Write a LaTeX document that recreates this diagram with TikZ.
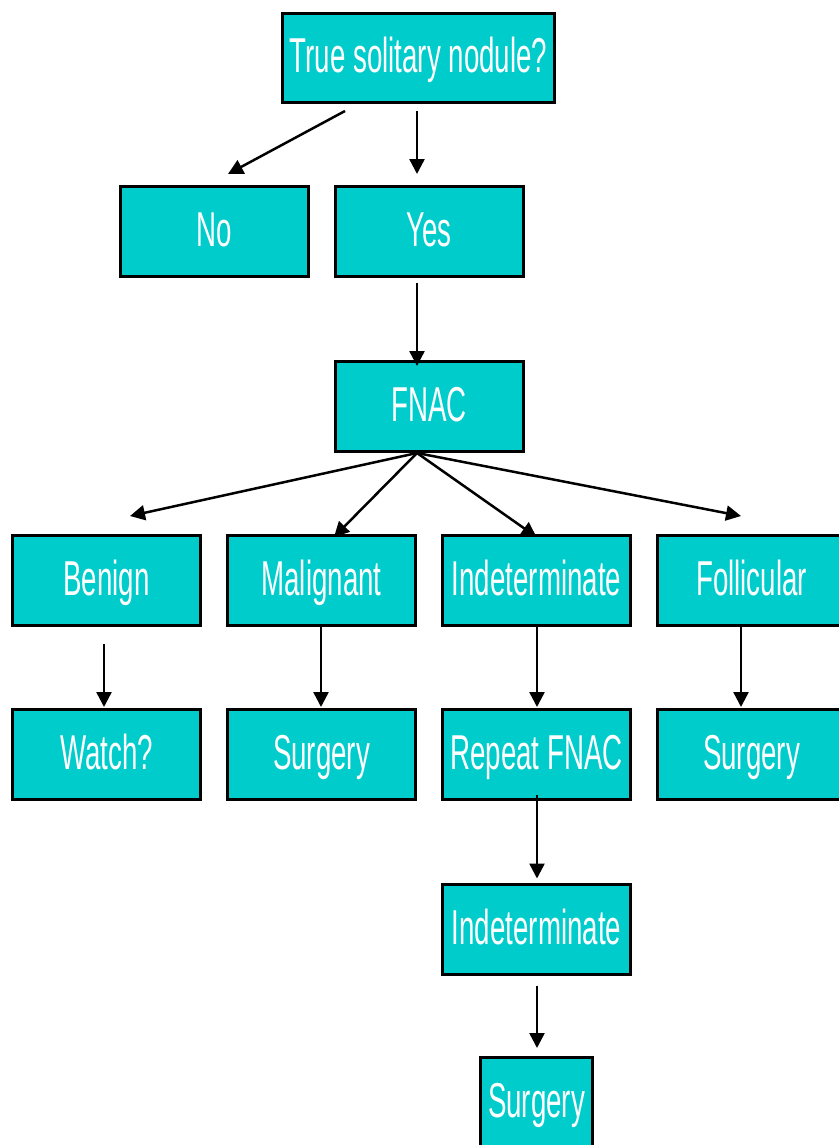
\documentclass[tikz,border=0pt]{standalone}
\usepackage{fontspec}
\setmainfont[FakeStretch=0.565]{Liberation Sans}
\usetikzlibrary{arrows.meta,calc}
\definecolor{boxc}{RGB}{0,204,204}
\begin{document}
\begin{tikzpicture}[x=1pt,y=-1pt,
  box/.style={rectangle,draw=black,line width=3pt,fill=boxc,text=white,
    minimum width=188pt,minimum height=90pt,inner sep=0pt,
    font=\fontsize{49}{55}\selectfont,text height=35pt,text depth=5pt},
  arr/.style={line width=2.5pt,-{Triangle[length=15pt,width=15pt]}}]
\useasboundingbox (0,0) rectangle (838,1145);
\node[box,minimum width=272pt,minimum height=89pt] (top) at (418.5,58) {True solitary nodule?};
\node[box] (no) at (214.5,231.5) {No};
\node[box] (yes) at (429,231.5) {Yes};
\node[box] (fnac) at (429,406.5) {FNAC};
\node[box] (benign) at (106.5,580.5) {Benign};
\node[box] (malig) at (321.5,580.5) {Malignant};
\node[box] (indet) at (536.5,580.5) {Indeterminate};
\node[box] (foll) at (751.5,580.5) {Follicular};
\node[box] (watch) at (106.5,754.5) {Watch?};
\node[box] (surgA) at (321.5,754.5) {Surgery};
\node[box] (repeat) at (536.5,754.5) {Repeat FNAC};
\node[box] (surgB) at (751.5,754.5) {Surgery};
\node[box] (indetB) at (536.5,929) {Indeterminate};
\node[box,minimum width=112pt] (surgC) at (536.5,1102.5) {Surgery};
\draw[arr] ($(top.south)+(-73.5,7)$) -- ($(no.north)+(13.5,-11)$);
\draw[arr] ($(top.south)+(-1.5,7)$) -- ($(yes.north)+(-12,-11)$);
\draw[arr] ($(yes.south)+(-12,5)$) -- ($(fnac.north)+(-12,6)$);
\draw[arr] ($(fnac.south)+(-12,0)$) -- ($(benign.north)+(23.5,-18)$);
\draw[arr] ($(fnac.south)+(-12,0)$) -- ($(malig.north)+(12.5,3)$);
\draw[arr] ($(fnac.south)+(-12,0)$) -- ($(indet.north)+(0,3)$);
\draw[arr] ($(fnac.south)+(-12,0)$) -- ($(foll.north)+(-10.5,-18)$);
\draw[arr] ($(benign.south)+(-2.5,17)$) -- ($(watch.north)+(-2.5,-1)$);
\draw[arr] ($(malig.south)+(-0.5,-3)$) -- ($(surgA.north)+(-0.5,-1)$);
\draw[arr] ($(indet.south)+(0.5,-3)$) -- ($(repeat.north)+(0.5,-1)$);
\draw[arr] ($(foll.south)+(-10.5,-3)$) -- ($(surgB.north)+(-10.5,-1)$);
\draw[arr] ($(repeat.south)+(0.5,-6)$) -- ($(indetB.north)+(0.5,-4)$);
\draw[arr] ($(indetB.south)+(0.5,10)$) -- ($(surgC.north)+(0.5,-8)$);
\end{tikzpicture}
\end{document}
